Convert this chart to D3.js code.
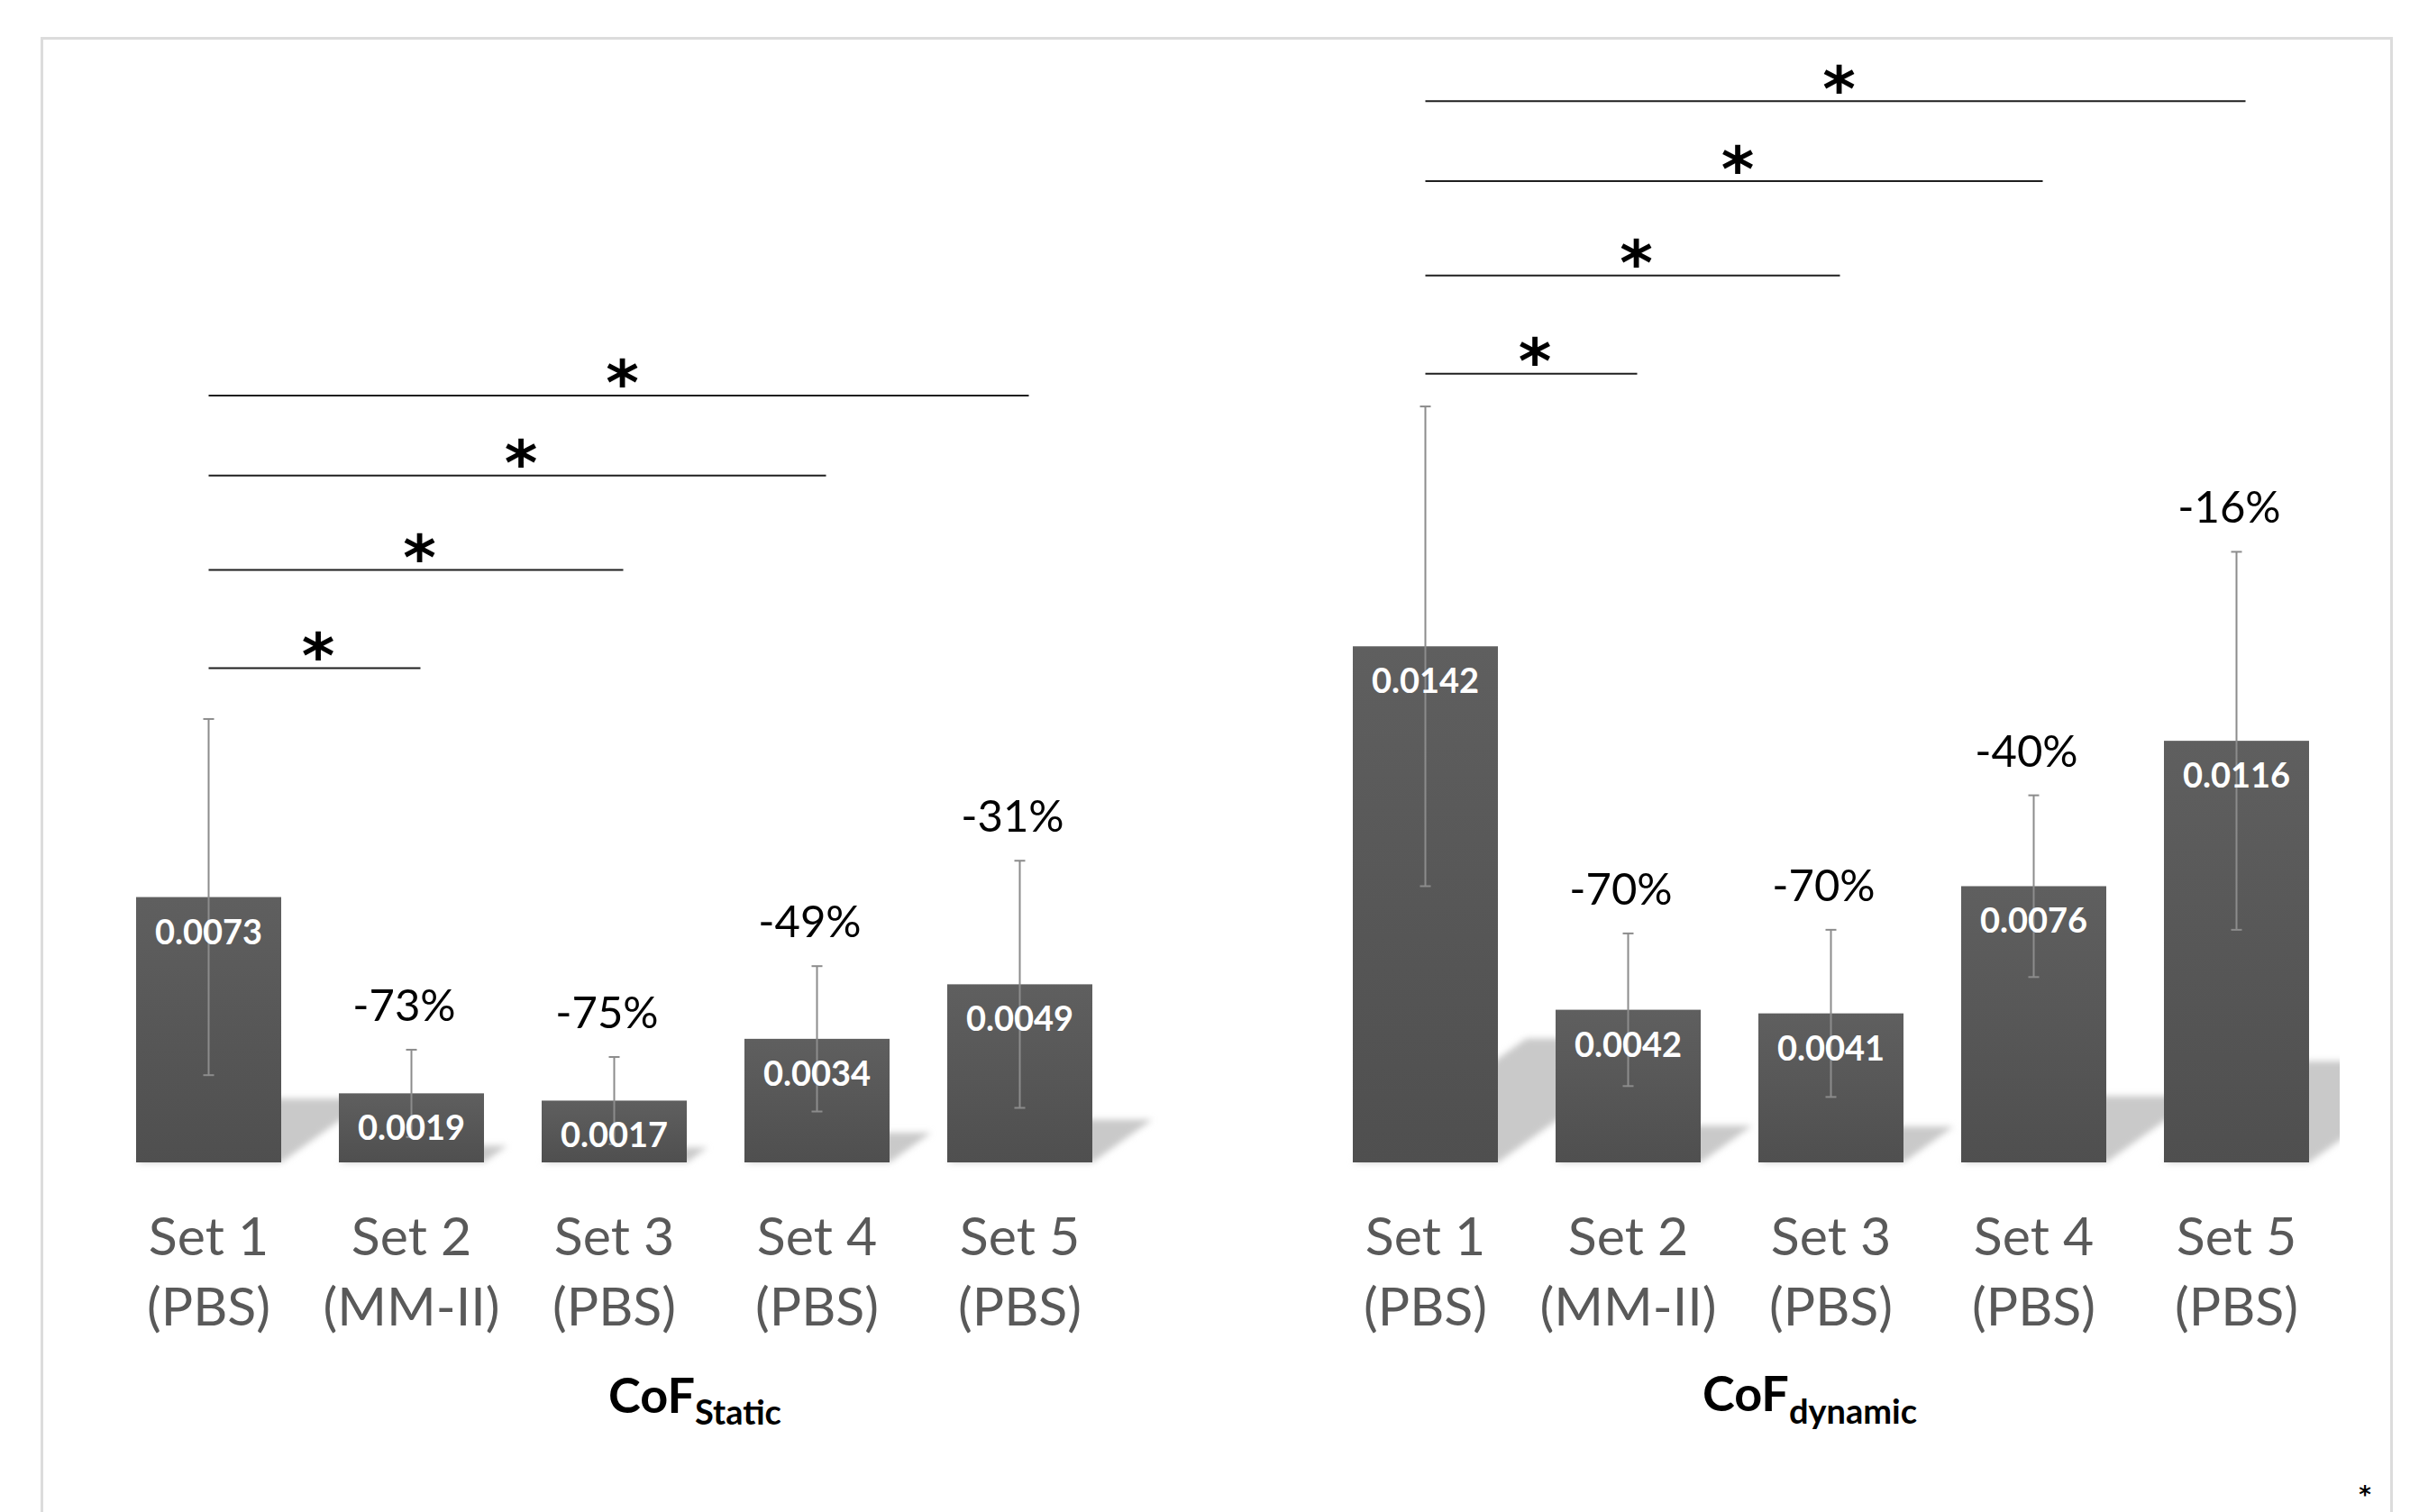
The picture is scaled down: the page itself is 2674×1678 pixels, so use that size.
<!DOCTYPE html>
<html>
<head>
<meta charset="utf-8">
<script src="https://cdn.jsdelivr.net/npm/d3@7"></script>
<style>
  html, body { margin: 0; padding: 0; background: #ffffff; }
  svg { display: block; }
</style>
</head>
<body>
<svg id="chart" width="2674" height="1678"></svg>
<script>
// ---- data ----
const setNames = ["Set 1", "Set 2", "Set 3", "Set 4", "Set 5"];
const media = ["(PBS)", "(MM-II)", "(PBS)", "(PBS)", "(PBS)"];

const staticMeans  = [0.0073, 0.0019, 0.0017, 0.0034, 0.0049];
const staticErrors = [0.0049, 0.0012, 0.0012, 0.0020, 0.0034];
const staticChange = [null, "-73%", "-75%", "-49%", "-31%"];

const dynamicMeans  = [0.0142, 0.0042, 0.0041, 0.0076, 0.0116];
const dynamicErrors = [0.0066, 0.0021, 0.0023, 0.0025, 0.0052];
const dynamicChange = [null, "-70%", "-70%", "-40%", "-16%"];

// significance brackets: Set 1 against Set 2..5, with bracket heights in CoF units
const sigTargets = ["Set 2", "Set 3", "Set 4", "Set 5"];
const staticSigLevels  = [0.0136, 0.0163, 0.0189, 0.0211];
const dynamicSigLevels = [0.0217, 0.0244, 0.0270, 0.0292];

// ---- drawing ----
const W = 2674, H = 1678;
const svg = d3.select("#chart");
const FONT = "Lato, 'Open Sans', sans-serif";
const STAR_FONT = "'DejaVu Sans', sans-serif";
const STAR_SIZE = 70;

// ink metrics of the asterisk, so it can be centred on a point
const starInk = (() => {
  const ctx = document.createElement("canvas").getContext("2d");
  ctx.font = `bold ${STAR_SIZE}px ${STAR_FONT}`;
  const m = ctx.measureText("*");
  return (m.actualBoundingBoxDescent - m.actualBoundingBoxAscent) / 2; // centre offset from baseline
})();

svg.append("rect").attr("width", W).attr("height", H).attr("fill", "#ffffff");

const defs = svg.append("defs");
const grad = defs.append("linearGradient").attr("id", "barFill")
  .attr("x1", 0).attr("y1", 0).attr("x2", 0).attr("y2", 1);
grad.append("stop").attr("offset", "0%").attr("stop-color", "#5f5f5f");
grad.append("stop").attr("offset", "100%").attr("stop-color", "#4f4f4f");

defs.append("filter").attr("id", "shadowBlur")
  .attr("x", "-20%").attr("y", "-20%").attr("width", "140%").attr("height", "140%")
  .append("feGaussianBlur").attr("stdDeviation", 3.5);

// outer frame
svg.append("rect")
  .attr("x", 46.5).attr("y", 42.5)
  .attr("width", 2607).attr("height", 1700)
  .attr("fill", "none")
  .attr("stroke", "#dcdcdc")
  .attr("stroke-width", 3);

const y = d3.scaleLinear().domain([0, 0.03]).range([1290, 80]);
const fmt = d3.format(".4f");

const panels = [
  { id: "static", means: staticMeans, errors: staticErrors, change: staticChange,
    sig: staticSigLevels, range: [119, 1244], clip: [0, 1300],
    title: "CoF", sub: "Static", titleX: 771, titleY: 1568, subDy: 13 },
  { id: "dynamic", means: dynamicMeans, errors: dynamicErrors, change: dynamicChange,
    sig: dynamicSigLevels, range: [1469, 2594], clip: [1300, 2596],
    title: "CoF", sub: "dynamic", titleX: 2008, titleY: 1566, subDy: 14 }
];

panels.forEach(p => {
  const x = d3.scaleBand().domain(setNames).range(p.range)
    .paddingInner(0.2844).paddingOuter(0.1422);
  const bw = x.bandwidth();
  const cx = d => x(d) + bw / 2;

  const rows = setNames.map((s, i) => ({
    name: s, medium: media[i], mean: p.means[i], err: p.errors[i], change: p.change[i]
  }));

  const g = svg.append("g").attr("class", "panel-" + p.id);

  // perspective shadows cast behind the bars
  defs.append("clipPath").attr("id", "clip-" + p.id)
    .append("rect").attr("x", p.clip[0]).attr("y", 0)
    .attr("width", p.clip[1] - p.clip[0]).attr("height", H);

  g.append("g")
    .attr("clip-path", `url(#clip-${p.id})`)
    .append("g")
    .attr("filter", "url(#shadowBlur)")
    .selectAll("path").data(rows).join("path")
    .attr("fill", "#c9c9c9")
    .attr("d", d => {
      const base = y(0);
      const hs = 0.24 * (base - y(d.mean));
      const s = 1.4 * hs;
      const x0 = x(d.name), x1 = x0 + bw;
      return `M${x0},${base}L${x1},${base}L${x1 + s},${base - hs}L${x0 + s},${base - hs}Z`;
    });

  // bars
  g.append("g").selectAll("rect").data(rows).join("rect")
    .attr("x", d => x(d.name))
    .attr("y", d => y(d.mean))
    .attr("width", bw)
    .attr("height", d => y(0) - y(d.mean))
    .attr("fill", "url(#barFill)");

  // error bars
  const eb = g.append("g").attr("stroke", "#8c8c8c").attr("stroke-width", 2)
    .selectAll("g").data(rows).join("g");
  eb.append("line")
    .attr("x1", d => cx(d.name)).attr("x2", d => cx(d.name))
    .attr("y1", d => y(d.mean + d.err)).attr("y2", d => y(d.mean - d.err));
  eb.append("line")
    .attr("x1", d => cx(d.name) - 6).attr("x2", d => cx(d.name) + 6)
    .attr("y1", d => y(d.mean + d.err)).attr("y2", d => y(d.mean + d.err));
  eb.append("line")
    .attr("x1", d => cx(d.name) - 6).attr("x2", d => cx(d.name) + 6)
    .attr("y1", d => y(d.mean - d.err)).attr("y2", d => y(d.mean - d.err));

  // value labels inside the bar tops
  g.append("g").selectAll("text").data(rows).join("text")
    .attr("x", d => cx(d.name))
    .attr("y", d => y(d.mean) + 52)
    .attr("text-anchor", "middle")
    .attr("font-family", FONT)
    .attr("font-weight", 700)
    .attr("font-size", 38)
    .attr("fill", "#ffffff")
    .text(d => fmt(d.mean));

  // change relative to Set 1
  g.append("g").selectAll("text").data(rows.filter(d => d.change)).join("text")
    .attr("x", d => cx(d.name) - 8)
    .attr("y", d => y(d.mean + d.err) - 32)
    .attr("text-anchor", "middle")
    .attr("font-family", FONT)
    .attr("font-size", 49)
    .attr("fill", "#000000")
    .text(d => d.change);

  // category labels (two lines)
  const cat = g.append("g").selectAll("text").data(rows).join("text")
    .attr("text-anchor", "middle")
    .attr("font-family", FONT)
    .attr("font-size", 59)
    .attr("fill", "#595959");
  cat.append("tspan").attr("x", d => cx(d.name)).attr("y", 1393).text(d => d.name);
  cat.append("tspan").attr("x", d => cx(d.name)).attr("y", 1471).text(d => d.medium);

  // significance brackets
  const sg = g.append("g");
  sigTargets.forEach((t, i) => {
    const ly = y(p.sig[i]);
    const xa = cx(setNames[0]), xb = cx(t) + 10;
    sg.append("line")
      .attr("x1", xa).attr("x2", xb)
      .attr("y1", ly).attr("y2", ly)
      .attr("stroke", "#1f1f1f").attr("stroke-width", 2);
    sg.append("text")
      .attr("x", (xa + xb) / 2 + 4)
      .attr("y", ly - 25 - starInk)
      .attr("text-anchor", "middle")
      .attr("font-family", STAR_FONT)
      .attr("font-weight", 700)
      .attr("font-size", STAR_SIZE)
      .attr("fill", "#000000")
      .text("*");
  });

  // panel title with subscript
  const tt = g.append("text")
    .attr("x", p.titleX).attr("y", p.titleY)
    .attr("text-anchor", "middle")
    .attr("font-family", FONT)
    .attr("font-weight", 700)
    .attr("fill", "#000000");
  tt.append("tspan").attr("font-size", 54).text(p.title);
  tt.append("tspan").attr("font-size", 38).attr("dy", p.subDy).text(p.sub);
});

// footnote marker
svg.append("text")
  .attr("x", 2624).attr("y", 1668)
  .attr("text-anchor", "middle")
  .attr("font-family", STAR_FONT)
  .attr("font-weight", 700)
  .attr("font-size", 26)
  .attr("fill", "#000000")
  .text("*");
</script>
</body>
</html>
